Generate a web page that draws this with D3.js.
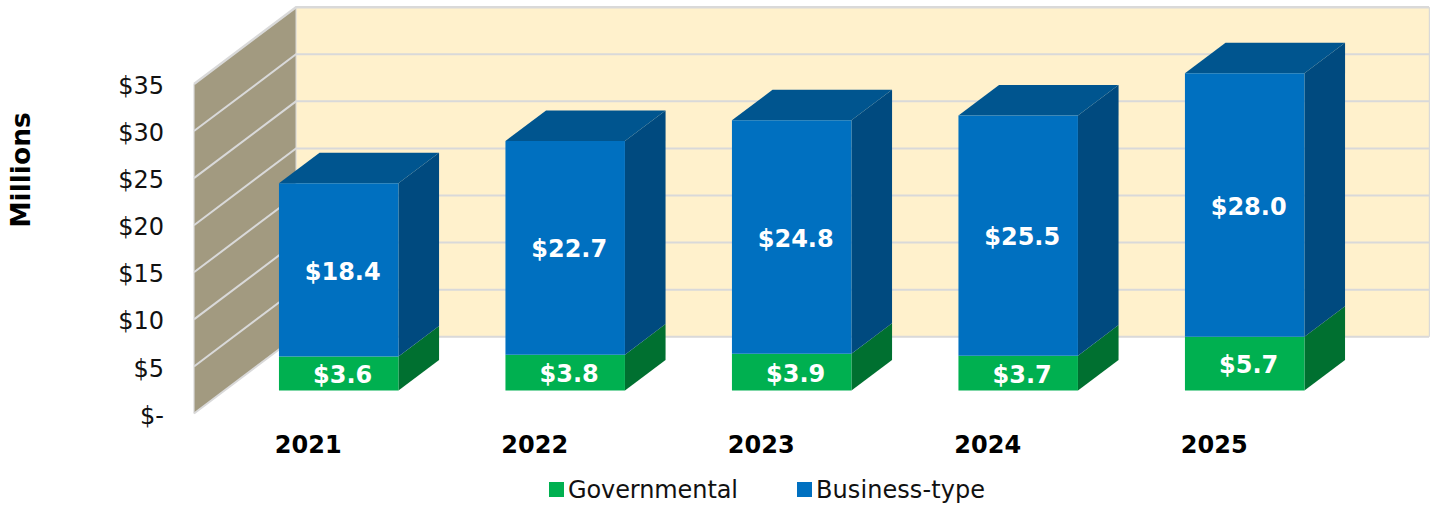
<!DOCTYPE html>
<html>
<head>
<meta charset="utf-8">
<script src="https://cdn.jsdelivr.net/npm/d3@7"></script>
<style>
html,body{margin:0;padding:0;background:#fff;}
svg{display:block;}
text{font-family:"DejaVu Sans",Verdana,sans-serif;}
</style>
</head>
<body>
<svg id="chart" width="1435" height="506"></svg>
<script>
const years = ["2021","2022","2023","2024","2025"];
const governmental = [3.6,3.8,3.9,3.7,5.7];
const businessType = [18.4,22.7,24.8,25.5,28.0];
const yTicks = [0,5,10,15,20,25,30,35];
const seriesNames = ["Governmental","Business-type"];

const colors = {
  wall:"#A29A80", back:"#FFF1CC", grid:"#D9D9D9",
  green:"#00B050", greenSide:"#007030",
  blue:"#0070C0", blueSide:"#004A7F", blueTop:"#00558F"
};

const svg = d3.select("#chart");
const x = d3.scaleBand().domain(years).range([195,1327.5]);
const y = d3.scaleLinear().domain([0,35]).range([413.5,84]);
const barW = d3.scaleBand().domain(years).range([194,1328.2]).paddingInner(0.4724).paddingOuter(0.24);
const depthX = d3.scaleLinear().domain([0,1]).range([0,102]);
const depthY = d3.scaleLinear().domain([0,1]).range([0,-76.8]);
const P = (px,v,d)=>[px+depthX(d), y(v)+depthY(d)];
const poly = pts => "M"+pts.map(p=>p.join(",")).join("L")+"Z";

// back wall
const [bx0,by0] = P(194,35,1);
const [bx1,by1] = P(194,0,1);
svg.append("rect").attr("x",bx0).attr("y",by0).attr("width",1429-bx0).attr("height",by1-by0)
  .attr("fill",colors.back).attr("stroke","#EFE6CC").attr("stroke-width",1);
// side wall
svg.append("path").attr("d",poly([P(194,0,0),P(194,35,0),P(194,35,1),P(194,0,1)])).attr("fill",colors.wall);
// gridlines
yTicks.forEach(t=>{
  const pts=[P(194,t,0),P(194,t,1),[1429,P(194,t,1)[1]]];
  svg.append("path").attr("d","M"+pts.map(p=>p.join(",")).join("L"))
    .attr("fill","none").attr("stroke",colors.grid).attr("stroke-width",t===35?2.4:2);
});
svg.append("line").attr("x1",194).attr("x2",194).attr("y1",y(35)).attr("y2",y(0)).attr("stroke",colors.grid).attr("stroke-width",1.2);
svg.append("line").attr("x1",bx0).attr("x2",bx0).attr("y1",by0).attr("y2",by1).attr("stroke",colors.grid).attr("stroke-width",1);
svg.append("line").attr("x1",1429.5).attr("x2",1429.5).attr("y1",by0).attr("y2",by1).attr("stroke",colors.grid).attr("stroke-width",1);

// bars
const d0 = 0.30, d1 = 0.698;
const bars = svg.append("g").selectAll("g").data(years).join("g");
bars.each(function(yr,i){
  const g = d3.select(this);
  const L = barW(yr);
  const R = L+barW.bandwidth();
  const a = governmental[i], b = a+businessType[i];
  g.append("path").attr("d",poly([P(R,0,d0),P(R,a,d0),P(R,a,d1),P(R,0,d1)])).attr("fill",colors.greenSide);
  g.append("path").attr("d",poly([P(R,a,d0),P(R,b,d0),P(R,b,d1),P(R,a,d1)])).attr("fill",colors.blueSide);
  g.append("path").attr("d",poly([P(L,b,d0),P(R,b,d0),P(R,b,d1),P(L,b,d1)])).attr("fill",colors.blueTop);
  g.append("path").attr("d",poly([P(L,0,d0),P(R,0,d0),P(R,a,d0),P(L,a,d0)])).attr("fill",colors.green);
  g.append("path").attr("d",poly([P(L,a,d0),P(R,a,d0),P(R,b,d0),P(L,b,d0)])).attr("fill",colors.blue);
  const cx = (L+R)/2+depthX(d0)+4;
  g.append("text").attr("x",cx).attr("y",(P(L,0,d0)[1]+P(L,a,d0)[1])/2+1).attr("dy","0.36em")
    .attr("text-anchor","middle").attr("font-size",24).attr("font-weight","bold").attr("fill","#fff")
    .text("$"+a.toFixed(1));
  g.append("text").attr("x",cx).attr("y",(P(L,a,d0)[1]+P(L,b,d0)[1])/2+1).attr("dy","0.36em")
    .attr("text-anchor","middle").attr("font-size",24).attr("font-weight","bold").attr("fill","#fff")
    .text("$"+businessType[i].toFixed(1));
});

// y axis
const yAxis = svg.append("g").attr("transform","translate(194,0)")
  .call(d3.axisLeft(y).tickValues(yTicks).tickSize(0).tickPadding(30).tickFormat(d=>d===0?"$-":"$"+d));
yAxis.select(".domain").remove();
yAxis.attr("font-family",null);
yAxis.selectAll("text").attr("font-size",24).attr("fill","#111").attr("dy","0.4em");

// x axis
const xAxis = svg.append("g").attr("transform","translate(0,428)")
  .call(d3.axisBottom(x).tickSize(0).tickPadding(8));
xAxis.select(".domain").remove();
xAxis.attr("font-family",null);
xAxis.selectAll("text").attr("font-size",24).attr("font-weight","bold").attr("fill","#000");

// axis title
svg.append("text").attr("transform","translate(30,170) rotate(-90)")
  .attr("text-anchor","middle").attr("font-size",26.5).attr("font-weight","bold").attr("fill","#000").text("Millions");

// legend
const legX = d3.scaleOrdinal().domain(seriesNames).range([549,797]);
const legC = d3.scaleOrdinal().domain(seriesNames).range([colors.green,colors.blue]);
const leg = svg.append("g").selectAll("g").data(seriesNames).join("g")
  .attr("transform",d=>`translate(${legX(d)},482)`);
leg.append("rect").attr("width",15).attr("height",15).attr("fill",d=>legC(d));
leg.append("text").attr("x",19).attr("y",16).attr("font-size",24).attr("fill","#111")
  .attr("textLength",d=>d===seriesNames[0]?170:169).attr("lengthAdjust","spacing").text(d=>d);
</script>
</body>
</html>
